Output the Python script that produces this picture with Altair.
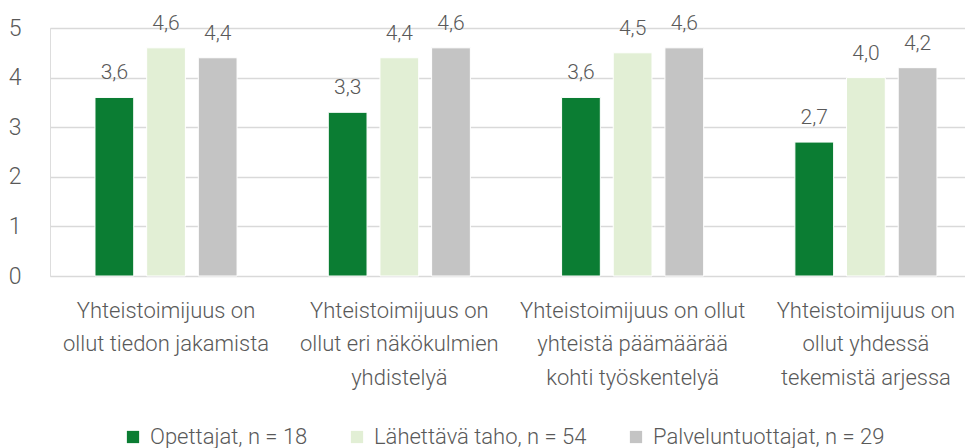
import altair as alt
import pandas as pd

categories = [
    "Yhteistoimijuus on|ollut tiedon jakamista",
    "Yhteistoimijuus on|ollut eri näkökulmien|yhdistelyä",
    "Yhteistoimijuus on ollut|yhteistä päämäärää|kohti työskentelyä",
    "Yhteistoimijuus on|ollut yhdessä|tekemistä arjessa",
]
series = ["Opettajat, n = 18", "Lähettävä taho, n = 54", "Palveluntuottajat, n = 29"]
opettajat = [3.6, 3.3, 3.6, 2.7]
lahettava = [4.6, 4.4, 4.5, 4.0]
palvelu = [4.4, 4.6, 4.6, 4.2]
colors = ["#0b7d33", "#e2efd5", "#c4c4c4"]
y_ticks = [0, 1, 2, 3, 4, 5]

rows = []
for s, vals in zip(series, [opettajat, lahettava, palvelu]):
    for c, v in zip(categories, vals):
        rows.append({"cat": c, "series": s, "value": v,
                     "label": f"{v:.1f}".replace(".", ",")})
df = pd.DataFrame(rows)

FONT = "Roboto"
W = 300
TXT = "#595959"

x = alt.X("cat:N", sort=categories, title=None,
          scale=alt.Scale(paddingInner=0.391, paddingOuter=0.1565, align=0.616),
          axis=alt.Axis(labelExpr="split(datum.label, '|')", labelAngle=0,
                        labelFont=FONT, labelFontWeight=W, labelFontSize=22,
                        labelColor=TXT, labelLimit=400, labelLineHeight=33.5,
                        labelPadding=24, domain=False, ticks=False,
                        labelBaseline="top"))
xo = alt.XOffset("series:N", sort=series,
                 scale=alt.Scale(paddingInner=0.25, paddingOuter=0))
y = alt.Y("value:Q", title=None,
          scale=alt.Scale(domain=[0, 5], nice=False),
          axis=alt.Axis(values=y_ticks, labelFont=FONT, labelFontWeight=W,
                        labelFontSize=23, labelColor=TXT, labelPadding=29,
                        ticks=False, tickSize=0, domain=False,
                        gridColor="#d9d9d9", gridWidth=1.5))

bars = alt.Chart(df).mark_bar(stroke="white", strokeWidth=1).encode(
    x=x, xOffset=xo, y=y,
    color=alt.Color("series:N", sort=series,
                    scale=alt.Scale(domain=series, range=colors),
                    legend=alt.Legend(title=None, orient="none", direction="horizontal",
                                      legendX=72, legendY=398,
                                      symbolType="square", symbolSize=150,
                                      symbolStrokeWidth=0, labelFont=FONT,
                                      labelFontWeight=W,
                                      labelFontSize=22, labelColor=TXT,
                                      labelLimit=500, labelOffset=6,
                                      columnPadding=38)),
)

text = alt.Chart(df).mark_text(baseline="alphabetic", dy=-18, font=FONT,
                               fontWeight=W, fontSize=21, color=TXT).encode(
    x=alt.X("cat:N", sort=categories), xOffset=xo,
    y=alt.Y("value:Q"), text="label:N")

chart = alt.layer(bars, text).properties(
    width=915, height=248,
    autosize=alt.AutoSizeParams(type="none"),
    padding={"left": 42, "top": 20, "right": 0, "bottom": 172},
).configure_view(stroke=None).configure(background="white")

chart.save("out.html", embed_options={"renderer": "svg", "actions": False})
